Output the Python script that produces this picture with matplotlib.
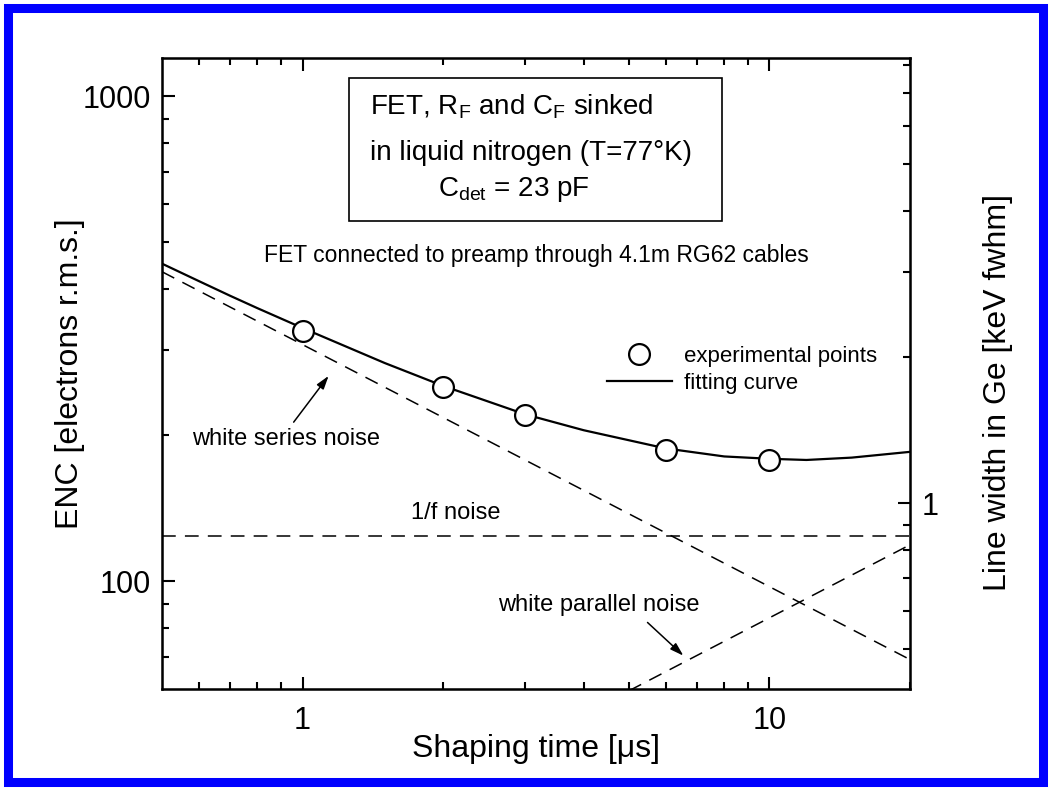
import matplotlib
matplotlib.use("Agg")
import matplotlib.pyplot as plt
from matplotlib.lines import Line2D
from matplotlib.patches import Rectangle
from matplotlib.ticker import FixedLocator, NullFormatter, FixedFormatter

plt.rcParams['font.family'] = ['Liberation Sans', 'DejaVu Sans']
plt.rcParams['mathtext.default'] = 'regular'

# experimental points
tau_pts = [1, 2, 3, 6, 10]
enc_pts = [328, 252, 220, 187, 178]

# fitting curve
tau_fit = [0.5, 0.6, 0.7, 0.8, 1, 1.5, 2, 3, 4, 6, 8, 10, 12, 15, 20]
enc_fit = [452, 416, 388, 366, 333, 282, 253, 221, 205, 188, 181, 179, 178, 180, 185]

# noise components (straight lines on log-log)
tau_series = [0.5, 20]
enc_series = [435, 69]
tau_flicker = [0.5, 20]
enc_flicker = [124, 124]
tau_parallel = [5.0, 20]
enc_parallel = [59.5, 119]

ENC_PER_KEV = 145.0

fig = plt.figure(figsize=(10.5, 7.89), dpi=100)
ax = fig.add_axes([0.1543, 0.1267, 0.7124, 0.7998])

dash = (0, (9, 6))
ax.plot(tau_series, enc_series, color='black', lw=1.1, linestyle=dash)
ax.plot(tau_flicker, enc_flicker, color='black', lw=1.1, linestyle=dash)
ax.plot(tau_parallel, enc_parallel, color='black', lw=1.1, linestyle=dash)
ax.plot(tau_fit, enc_fit, color='black', lw=1.6, zorder=3)
ax.plot(tau_pts, enc_pts, linestyle='none', marker='o', ms=15, mfc='white',
        mec='black', mew=1.6, zorder=4)

ax.set_xscale('log')
ax.set_yscale('log')
ax.set_xlim(0.5, 20)
ax.set_ylim(60, 1200)

ax.xaxis.set_major_locator(FixedLocator([1, 10]))
ax.xaxis.set_major_formatter(FixedFormatter(['1', '10']))
ax.xaxis.set_minor_locator(FixedLocator([0.6, 0.7, 0.8, 0.9, 2, 3, 4, 5, 6, 7, 8, 9, 20]))
ax.xaxis.set_minor_formatter(NullFormatter())
ax.yaxis.set_major_locator(FixedLocator([100, 1000]))
ax.yaxis.set_major_formatter(FixedFormatter(['100', '1000']))
ax.yaxis.set_minor_locator(FixedLocator([70, 80, 90, 200, 300, 400, 500, 600, 700, 800, 900]))
ax.yaxis.set_minor_formatter(NullFormatter())

ax.tick_params(which='both', direction='in', top=True, right=False, width=1.5,
               labelsize=22)
ax.tick_params(axis='x', pad=12)
ax.tick_params(axis='y', pad=8)
ax.tick_params(which='major', length=9)
ax.tick_params(which='minor', length=5)
for s in ax.spines.values():
    s.set_linewidth(1.8)

ax2 = ax.twinx()
ax2.set_yscale('log')
ax2.set_ylim(60 / ENC_PER_KEV, 1200 / ENC_PER_KEV)
ax2.yaxis.set_major_locator(FixedLocator([1]))
ax2.yaxis.set_major_formatter(FixedFormatter(['1']))
ax2.yaxis.set_minor_locator(FixedLocator([0.5, 0.6, 0.7, 0.8, 0.9, 2, 3, 4, 5, 6, 7, 8]))
ax2.yaxis.set_minor_formatter(NullFormatter())
ax2.tick_params(which='both', direction='in', width=1.5, labelsize=22, pad=8)
ax2.tick_params(which='major', length=9)
ax2.tick_params(which='minor', length=5)

ax.set_xlabel('Shaping time [μs]', fontsize=23)
ax.set_ylabel('ENC [electrons r.m.s.]', fontsize=23)
ax2.set_ylabel('Line width in Ge [keV fwhm]', fontsize=23)
ax.xaxis.set_label_coords(0.5, -0.072)
ax.yaxis.set_label_coords(-0.103, 0.5)
ax2.yaxis.set_label_coords(1.098, 0.47)

# info box
ax.add_patch(Rectangle((0.25, 0.7417), 0.4987, 0.2266, transform=ax.transAxes,
                       fill=False, edgecolor='black', lw=1.2, zorder=5))
ax.text(0.278, 0.922, 'FET, R$_F$ and C$_F$ sinked', transform=ax.transAxes,
        fontsize=20, va='center', ha='left')
ax.text(0.278, 0.849, 'in liquid nitrogen (T=77°K)', transform=ax.transAxes,
        fontsize=20, va='center', ha='left')
ax.text(0.369, 0.791, 'C$_{det}$ = 23 pF', transform=ax.transAxes,
        fontsize=20, va='center', ha='left')

ax.text(3.17, 469, 'FET connected to preamp through 4.1m RG62 cables',
        fontsize=16.5, ha='center', va='center')
ax.text(2.126, 138.2, '1/f noise', fontsize=17, ha='center', va='center')

arrow = dict(arrowstyle='-|>,head_length=0.8,head_width=0.25', color='black', lw=1.1,
             shrinkA=0, shrinkB=0)
ax.text(0.92, 196.6, 'white series noise', fontsize=17, ha='center', va='center')
ax.annotate('', xy=(1.137, 265.3), xytext=(0.957, 213), arrowprops=arrow)
ax.text(4.30, 89.6, 'white parallel noise', fontsize=17, ha='center', va='center')
ax.annotate('', xy=(6.54, 70.3), xytext=(5.48, 82.3), arrowprops=arrow)

handles = [
    Line2D([], [], linestyle='none', marker='o', ms=15, mfc='white', mec='black', mew=1.6),
    Line2D([], [], color='black', lw=1.6),
]
ax.legend(handles, ['experimental points', 'fitting curve'], loc='center left',
          bbox_to_anchor=(0.595, 0.5055), frameon=False, fontsize=16,
          handlelength=2.9, handletextpad=0.55, labelspacing=0.25,
          borderpad=0, borderaxespad=0)

# blue frame round the figure
fig.patches.append(Rectangle((7.5 / 1050, 7.5 / 789), 1 - 15 / 1050, 1 - 15 / 789,
                             transform=fig.transFigure, fill=False,
                             edgecolor='#0000FF', linewidth=6.5))

fig.savefig('out.png', dpi=100)
